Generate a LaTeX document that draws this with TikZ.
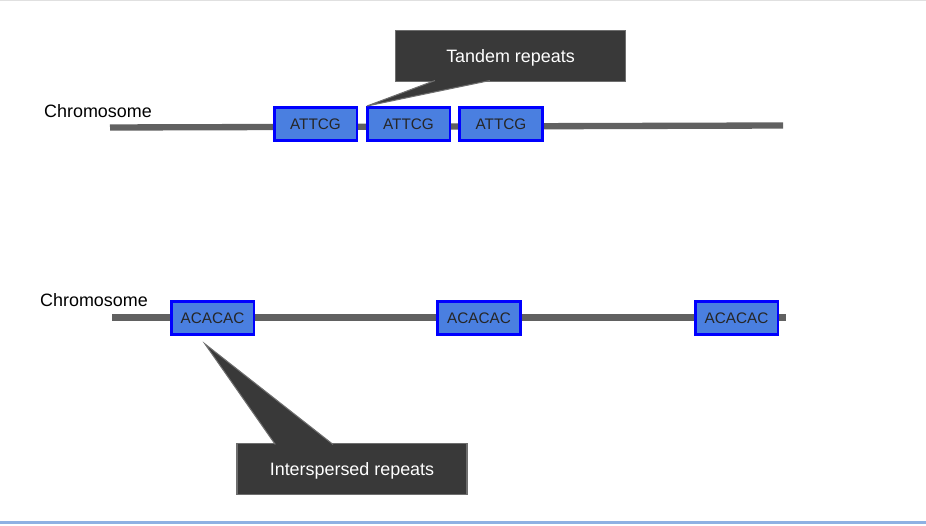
\documentclass[tikz,border=0pt]{standalone}
\usepackage{fontspec}
\setmainfont{Liberation Sans}
\usepackage{xcolor}
\usetikzlibrary{positioning, calc}

\definecolor{chromgray}{HTML}{616161}
\definecolor{repblue}{HTML}{4A7FE0}
\definecolor{calloutgray}{HTML}{393939}
\definecolor{framegray}{HTML}{6E6E6E}
\definecolor{slideblue}{HTML}{8EB1E3}

\begin{document}
\begin{tikzpicture}[x=0.02cm, y=-0.02cm,
  chrom/.style={draw=chromgray, line width=3.6pt},
  repeatbox/.style={rectangle, draw=blue, fill=repblue, line width=1.7pt,
                 minimum width=1.66cm, minimum height=0.66cm, inner sep=0pt,
                 text=black!85, font=\fontsize{8.7}{10}\selectfont},
  label/.style={inner sep=0pt, font=\fontsize{10.2}{12}\selectfont},
  callout/.style={rectangle, draw=framegray, fill=calloutgray, line width=0.6pt,
                 minimum width=4.6cm, minimum height=1.02cm, inner sep=0pt,
                 text depth=0pt, text=white, font=\fontsize{10.2}{12}\selectfont},
  tail/.style={draw=framegray, fill=calloutgray, line width=0.6pt, line join=miter}
]
  \useasboundingbox (0,0) rectangle (926,526);
  \draw[black!12, line width=0.6pt] (0,0.5) -- (926,0.5);
  \draw[slideblue, line width=1.6pt] (0,522.5) -- (926,522.5);

  % first chromosome: tandem repeats
  \coordinate (top start) at (110,127.5);
  \coordinate (top end) at (783,125.5);
  \draw[chrom] (top start) -- (top end);
  \node[label] (chrom1) at (98,111) {Chromosome};
  \foreach \i/\x in {1/315.5, 2/408.5, 3/501}
    \node[repeatbox] (t\i) at (\x,124) {ATTCG};

  \node[callout] (tandem) at (510.5,56) {Tandem repeats};
  \filldraw[tail] ($(tandem.south west)!0.173!(tandem.south east)+(0,-1.5)$)
    -- ($(t2.north west)+(1.5,0)$)
    -- ($(tandem.south west)!0.411!(tandem.south east)+(0,-1.5)$);

  % second chromosome: interspersed repeats
  \coordinate (bot start) at (112,317.5);
  \coordinate (bot end) at (786,317.5);
  \draw[chrom] (bot start) -- (bot end);
  \node[label] (chrom2) at (94,300) {Chromosome};
  \foreach \i/\x in {1/212.5, 2/479, 3/736.5}
    \node[repeatbox] (s\i) at (\x,318) {ACACAC};

  \node[callout] (inter) at (352,469) {Interspersed repeats};
  \filldraw[tail] ($(inter.north west)!0.168!(inter.north east)+(0,1.5)$)
    -- ($(s1.south)+(-7.5,8)$)
    -- ($(inter.north west)!0.418!(inter.north east)+(0,1.5)$);
\end{tikzpicture}
\end{document}
